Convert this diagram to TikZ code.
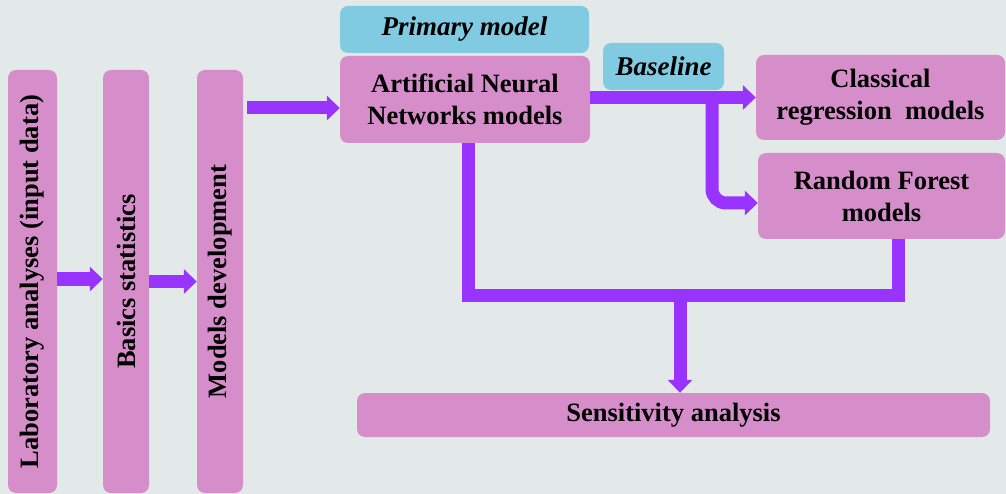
\documentclass[tikz,border=0pt]{standalone}
\usepackage{fontspec}
\setmainfont{Liberation Serif}
\usepackage{graphicx}
\usetikzlibrary{arrows.meta}
\definecolor{bgc}{HTML}{E3E9E9}
\definecolor{pinkc}{HTML}{D68ECB}
\definecolor{bluec}{HTML}{80CAE2}
\definecolor{purp}{HTML}{9933FF}
\begin{document}
\begin{tikzpicture}[x=1pt,y=-1pt,
  box/.style={draw=none, fill=pinkc, rounded corners=8pt, inner sep=0pt, align=center,
    font=\fontsize{26.5}{32}\selectfont\bfseries},
  tagbox/.style={box, fill=bluec, font=\fontsize{27}{30}\selectfont\bfseries\itshape},
  arr/.style={draw=purp, line width=13pt, -{Triangle[width=24pt,length=13pt]}},
  link/.style={draw=purp, line width=13pt}]
\fill[bgc] (0,0) rectangle (1006,494);
\useasboundingbox (0,0) rectangle (1006,494);
% left column boxes
\node[box, minimum width=49pt, minimum height=423pt] (lab) at (32.5,281.5)
  {\rotatebox{90}{\fontsize{26.5}{30}\selectfont Laboratory analyses (input data)}};
\node[box, minimum width=46pt, minimum height=423pt] (stats) at (126,281.5)
  {\rotatebox{90}{\fontsize{26.5}{30}\selectfont Basics statistics}};
\node[box, minimum width=46pt, minimum height=423pt] (dev) at (220,281.5)
  {\rotatebox{90}{\fontsize{26.5}{30}\selectfont Models development}};
% model boxes
\node[tagbox, minimum width=249pt, minimum height=47pt] (prim) at (464.5,29.5) {Primary model};
\node[box, minimum width=250pt, minimum height=87pt] (ann) at (465,99.5) {Artificial Neural\\Networks models};
\node[tagbox, minimum width=121pt, minimum height=47pt] (base) at (663.5,66.5) {Baseline};
\node[box, minimum width=249pt, minimum height=85pt] (cls) at (880.5,97.5) {Classical\\regression\ \ models};
\node[box, minimum width=247pt, minimum height=86pt] (rf) at (881.5,196) {Random Forest\\models};
\node[box, minimum width=633pt, minimum height=44pt] (sens) at (673.5,415) {Sensitivity analysis};
% connectors
\coordinate (a1) at ([yshift=2.5pt]stats.west);
\draw[arr] (lab.east |- a1) -- (a1);
\draw[arr] (stats.east) -- (dev.west);
\coordinate (d3) at ([yshift=-8.5pt]ann.west);
\draw[arr, shorten <=4pt] (dev.east |- d3) -- (d3);
\draw[arr] (ann.east |- cls.west) -- (cls.west);
\coordinate (br) at (712,92);
\coordinate (rfin) at ([yshift=-7pt]rf.west);
\draw[arr, rounded corners=14pt] (br) |- (rfin);
\coordinate (m) at (680,295);
\draw[link] ([xshift=3pt]ann.south) |- (m) -| ([xshift=16.5pt]rf.south);
\draw[arr] (m) -- (m |- sens.north);
\end{tikzpicture}
\end{document}
